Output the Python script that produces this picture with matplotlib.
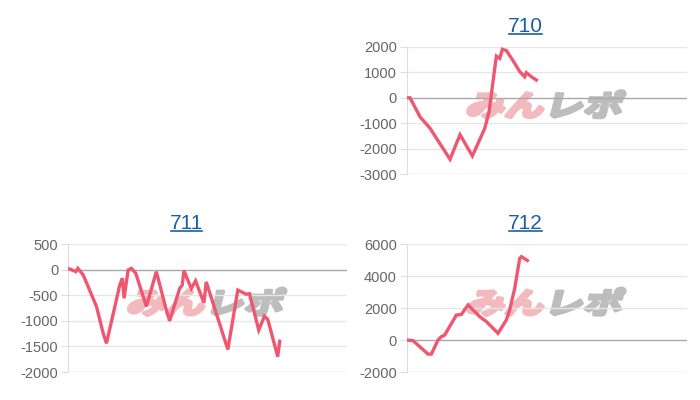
import matplotlib
matplotlib.use('Agg')
import matplotlib.pyplot as plt
import matplotlib.transforms as mtransforms
from matplotlib.textpath import TextPath
from matplotlib.patches import PathPatch
from matplotlib.font_manager import FontProperties
from matplotlib.lines import Line2D

plt.rcParams['font.family'] = ['Liberation Sans', 'DejaVu Sans']
plt.rcParams['axes.unicode_minus'] = False

# Data (x = game step, y = balance)
x710 = [0, 1, 4, 7, 13, 16, 19.7, 23.4, 24.7, 26.9, 27.9, 28.7, 29.9, 32.4, 33.9, 35.4, 35.9, 37.4, 38.9]
y710 = [0, 0, -750, -1200, -2420, -1450, -2290, -1210, -550, 1640, 1550, 1910, 1860, 1360, 1030, 830, 990, 830, 700]

x711 = [0, 1, 2.4, 3, 4.6, 8.6, 10.6, 11.6, 15.6, 16.4, 16.9, 18.1, 19.1, 20.4, 23.6, 26.6, 29.6, 30.6,
        33.6, 34.4, 34.9, 37.1, 38.4, 40.9, 41.6, 48.1, 51.1, 53.6, 54.6, 57.4, 59.1, 60.1, 63.1, 63.7]
y711 = [20, 0, -40, 25, -105, -720, -1240, -1440, -300, -170, -560, -8, 25, -70, -720, -40, -790, -1000,
        -370, -300, -20, -370, -220, -650, -240, -1560, -400, -480, -470, -1180, -910, -970, -1700, -1400]

x712 = [0, 1.9, 6.4, 7.4, 9.4, 10.4, 11.4, 14.9, 16.4, 18.4, 19.9, 21.9, 23.9, 27.4, 29.9, 30.9, 32.4, 33.9, 34.4, 36.2]
y712 = [0, -40, -880, -880, 0, 210, 310, 1560, 1600, 2190, 1880, 1460, 1150, 420, 1250, 1880, 3230, 5100, 5210, 4970]

titles = ['710', '711', '712']
yticks710 = [2000, 1000, 0, -1000, -2000, -3000]
yticks711 = [500, 0, -500, -1000, -1500, -2000]
yticks712 = [6000, 4000, 2000, 0, -2000]

line_color = '#ef5670'
title_color = '#1a5fa5'

fig = plt.figure(figsize=(7, 4), dpi=100)
ax710 = fig.add_axes([0.581, 0.565, 0.400, 0.3175])
ax711 = fig.add_axes([0.097, 0.070, 0.399, 0.320])
ax712 = fig.add_axes([0.581, 0.070, 0.400, 0.320])


def watermark(ax, cx, cy):
    fp = FontProperties(family='Noto Sans CJK JP', weight='bold')
    p1 = TextPath((0, 0), 'みん', size=34, prop=fp)
    p2 = TextPath((0, 0), 'レポ', size=34, prop=fp)
    sx, sy = 1.15, 0.85
    w1 = p1.get_extents().x1 * sx
    w2 = p2.get_extents().x1 * sx
    X, Y = ax.transAxes.transform((cx, cy))
    left = X - (w1 + w2) / 2
    base = Y - 13
    t1 = mtransforms.Affine2D().scale(sx, sy).skew_deg(14, 0).translate(left, base)
    t2 = mtransforms.Affine2D().scale(sx, sy).skew_deg(14, 0).translate(left + w1 + 2, base)
    ax.add_patch(PathPatch(p1, transform=t1, facecolor='#f2b9be', edgecolor='#f2b9be',
                           lw=2.5, joinstyle='round', zorder=1))
    ax.add_patch(PathPatch(p2, transform=t2, facecolor='#bdbdbd', edgecolor='#bdbdbd',
                           lw=2.5, joinstyle='round', zorder=1))


for ax, xs, ys, ticks, title in [(ax710, x710, y710, yticks710, titles[0]),
                                 (ax711, x711, y711, yticks711, titles[1]),
                                 (ax712, x712, y712, yticks712, titles[2])]:
    ax.plot(xs, ys, color=line_color, lw=2.4, solid_joinstyle='miter', zorder=3)
    ax.set_xlim(0, 84)
    ax.set_ylim(min(ticks), max(ticks))
    ax.set_yticks(ticks)
    ax.set_yticklabels([str(t) for t in ticks])
    ax.set_xticks([])
    for t in ticks:
        if t == 0:
            ax.axhline(0, color='#a8a8a8', lw=1.0, zorder=2)
        elif t == min(ticks):
            ax.axhline(t, color='#cfcfcf', lw=1.0, zorder=2)
        else:
            ax.axhline(t, color='#e6e6e6', lw=1.0, zorder=2)
    for s in ['top', 'right', 'bottom']:
        ax.spines[s].set_visible(False)
    ax.spines['left'].set_color('#dddddd')
    ax.tick_params(axis='y', length=5, color='#dddddd', labelsize=10.5, labelcolor='#666666', pad=2)
    ax.set_title(title, x=0.425, color=title_color, fontsize=15, pad=11)
    watermark(ax, 0.48, 0.56)

# underline the titles
fig.canvas.draw()
renderer = fig.canvas.get_renderer()
for ax in [ax710, ax711, ax712]:
    bb = ax.title.get_window_extent(renderer)
    (x0, y0), (x1, _) = fig.transFigure.inverted().transform([[bb.x0 + 1, bb.y0 + 2], [bb.x1 - 1, bb.y0]])
    fig.add_artist(Line2D([x0, x1], [y0, y0], color=title_color, lw=1.2, transform=fig.transFigure))

fig.savefig('out.png', dpi=100)
